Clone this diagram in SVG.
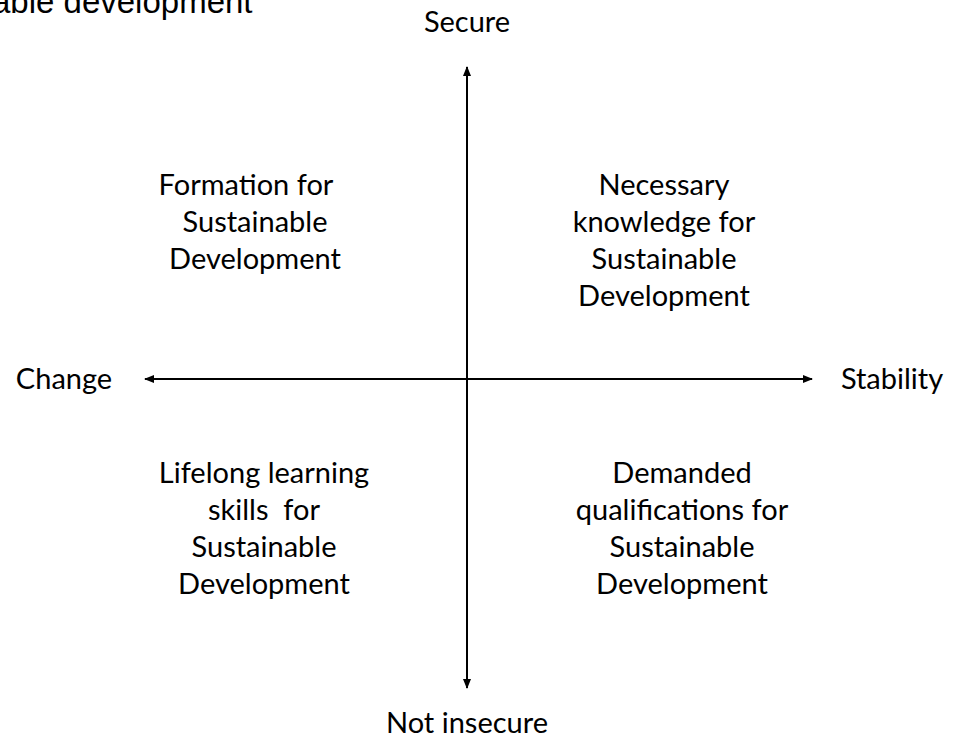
<svg xmlns="http://www.w3.org/2000/svg" width="955" height="738" viewBox="0 0 955 738">
<style>
.t{font-family:Lato,"Open Sans",sans-serif;font-size:29px;fill:#000;text-anchor:middle}
.h{font-family:"Liberation Sans",Arial,sans-serif;font-size:33px;fill:#000}
.ax{stroke:#000;stroke-width:2;fill:none}
</style>
<defs>
<marker id="ah" markerWidth="10" markerHeight="8" refX="9" refY="4" orient="auto" markerUnits="userSpaceOnUse">
<path d="M0,0 L10,4 L0,8 Z" fill="#000"/>
</marker>
</defs>
<rect width="955" height="738" fill="#fff"/>
<text class="h" x="-8" y="13">able development</text>
<g id="connectors">
<line class="ax" x1="467" y1="380" x2="467" y2="67" marker-end="url(#ah)"/>
<line class="ax" x1="467" y1="380" x2="467" y2="688" marker-end="url(#ah)"/>
<line class="ax" x1="467" y1="379" x2="145" y2="379" marker-end="url(#ah)"/>
<line class="ax" x1="467" y1="379" x2="812" y2="379" marker-end="url(#ah)"/>
</g>
<g id="secure"><text class="t" x="467" y="32">Secure</text></g>
<g id="not-insecure"><text class="t" x="467" y="733">Not insecure</text></g>
<g id="change"><text class="t" x="64" y="389">Change</text></g>
<g id="stability"><text class="t" x="892" y="389">Stability</text></g>
<g id="formation">
<text class="t" x="246" y="195">Formation for</text>
<text class="t" x="255" y="232">Sustainable</text>
<text class="t" x="255" y="269">Development</text>
</g>
<g id="necessary">
<text class="t" x="664" y="195">Necessary</text>
<text class="t" x="664" y="232">knowledge for</text>
<text class="t" x="664" y="269">Sustainable</text>
<text class="t" x="664" y="306">Development</text>
</g>
<g id="lifelong">
<text class="t" x="264" y="483">Lifelong learning</text>
<text class="t" x="264" y="520" xml:space="preserve">skills  for</text>
<text class="t" x="264" y="557">Sustainable</text>
<text class="t" x="264" y="594">Development</text>
</g>
<g id="demanded">
<text class="t" x="682" y="483">Demanded</text>
<text class="t" x="682" y="520">qualifications for</text>
<text class="t" x="682" y="557">Sustainable</text>
<text class="t" x="682" y="594">Development</text>
</g>
</svg>
